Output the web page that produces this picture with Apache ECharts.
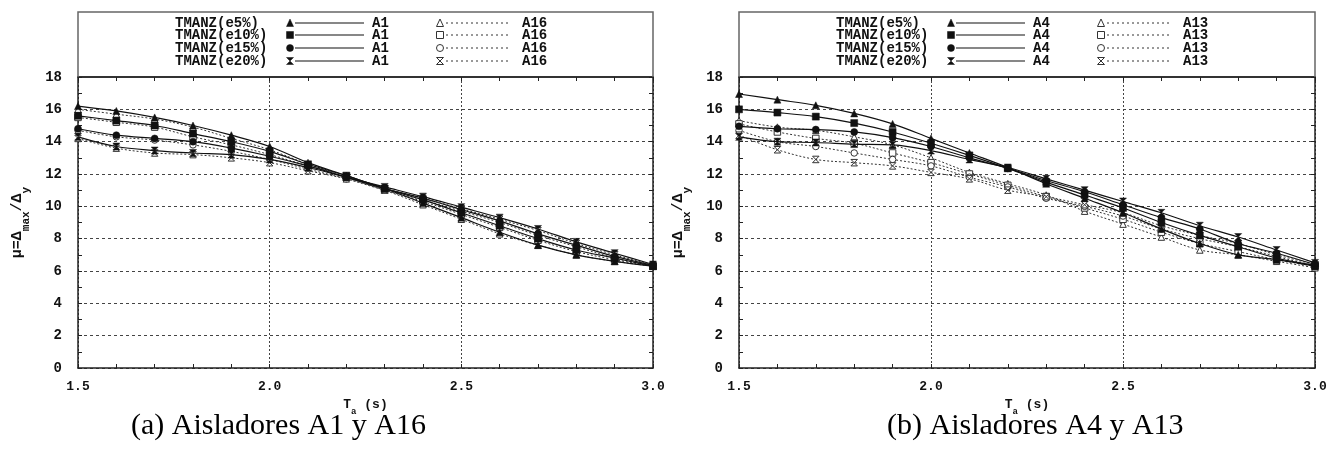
<!DOCTYPE html>
<html>
<head>
<meta charset="utf-8">
<script src="https://cdn.jsdelivr.net/npm/echarts@6/dist/echarts.min.js"></script>
<style>
html,body{margin:0;padding:0;background:#fff;}
#c{width:1330px;height:451px;}
</style>
</head>
<body>
<div id="c"></div>
<script>
// ---- data ----
const periods = [1.5,1.6,1.7,1.8,1.9,2.0,2.1,2.2,2.3,2.4,2.5,2.6,2.7,2.8,2.9,3.0];
const eccLabels = ['TMANZ(e5%)','TMANZ(e10%)','TMANZ(e15%)','TMANZ(e20%)'];
const xTickDecimals = 1;

// panel (a): A1 (solid) and A16 (dotted)
const a1_e5  = [16.2,15.9,15.5,15.0,14.4,13.7,12.7,11.9,11.1,10.2,9.3,8.4,7.6,7.0,6.6,6.3];
const a1_e10 = [15.6,15.3,15.0,14.5,14.0,13.4,12.6,11.9,11.1,10.4,9.6,8.8,8.0,7.3,6.8,6.3];
const a1_e15 = [14.8,14.4,14.2,14.0,13.6,13.1,12.5,11.8,11.1,10.5,9.8,9.1,8.3,7.6,6.9,6.35];
const a1_e20 = [14.3,13.7,13.45,13.3,13.2,12.9,12.4,11.8,11.2,10.6,9.95,9.3,8.6,7.8,7.1,6.4];
const a16_e5  = [16.0,15.7,15.4,14.9,14.2,13.5,12.6,11.8,11.0,10.1,9.2,8.3,7.6,7.0,6.6,6.3];
const a16_e10 = [15.5,15.2,14.9,14.3,13.8,13.2,12.5,11.8,11.0,10.3,9.5,8.7,7.9,7.2,6.7,6.3];
const a16_e15 = [14.7,14.3,14.1,13.8,13.4,12.9,12.3,11.7,11.0,10.4,9.7,9.0,8.2,7.5,6.8,6.3];
const a16_e20 = [14.2,13.6,13.3,13.2,13.0,12.7,12.2,11.7,11.1,10.5,9.85,9.2,8.5,7.7,7.0,6.35];

// panel (b): A4 (solid) and A13 (dotted)
const a4_e5  = [16.95,16.6,16.25,15.75,15.1,14.2,13.3,12.4,11.4,10.5,9.6,8.6,7.7,7.0,6.7,6.3];
const a4_e10 = [16.0,15.8,15.55,15.15,14.6,13.9,13.15,12.35,11.5,10.7,9.9,9.0,8.2,7.5,6.8,6.35];
const a4_e15 = [14.95,14.8,14.75,14.6,14.25,13.7,13.0,12.35,11.6,10.9,10.1,9.3,8.6,7.7,7.1,6.4];
const a4_e20 = [14.3,14.0,13.95,13.85,13.8,13.45,12.9,12.4,11.7,11.0,10.3,9.6,8.8,8.1,7.3,6.5];
const a13_e5  = [15.3,14.9,14.7,14.3,13.8,13.0,12.1,11.4,10.7,9.7,8.9,8.1,7.3,7.0,6.6,6.2];
const a13_e10 = [15.1,14.6,14.2,13.9,13.3,12.7,12.0,11.3,10.6,9.9,9.2,8.4,7.7,7.2,6.7,6.3];
const a13_e15 = [14.7,14.0,13.7,13.3,12.9,12.5,11.8,11.2,10.5,10.0,9.4,8.6,8.0,7.5,6.9,6.3];
const a13_e20 = [14.4,13.5,12.9,12.7,12.5,12.1,11.7,11.0,10.6,10.1,9.6,8.8,8.2,7.7,7.0,6.4];

const panels = [
  {solidName:'A1', dotName:'A16', solid:[a1_e5,a1_e10,a1_e15,a1_e20], dot:[a16_e5,a16_e10,a16_e15,a16_e20], caption:'(a) Aisladores A1 y A16'},
  {solidName:'A4', dotName:'A13', solid:[a4_e5,a4_e10,a4_e15,a4_e20], dot:[a13_e5,a13_e10,a13_e15,a13_e20], caption:'(b) Aisladores A4 y A13'}
];

// ---- styling / layout ----
const gridLeft = [78, 739];
const gridRight = [653, 1315];
const gridTop = 77, gridBottomY = 368, boxTop = 12;
const symbols = ['triangle','rect','circle','path://M0,0L10,0L0,10L10,10Z'];
const monoBold = 'bold 14px "Liberation Mono"';

const chart = echarts.init(document.getElementById('c'), null, {renderer:'canvas'});

const grids = [], xAxes = [], yAxes = [], series = [], graphics = [], titles = [];

panels.forEach((p, i) => {
  grids.push({left: gridLeft[i], right: 1330 - gridRight[i], top: gridTop, bottom: 451 - gridBottomY, containLabel:false});
  const tickBase = {show:true, inside:true, length:4, lineStyle:{color:'#222', width:1}};
  const minorBase = {show:true, splitNumber:5, length:4, lineStyle:{color:'#222', width:1}};
  // bottom x
  xAxes.push({
    gridIndex:i, type:'value', min:1.5, max:3.0, interval:0.5, position:'bottom',
    axisLine:{show:true, onZero:false, lineStyle:{color:'#222', width:1.5}},
    axisTick:tickBase, minorTick:minorBase,
    axisLabel:{color:'#111', fontFamily:'Liberation Mono', fontWeight:'bold', fontSize:13, margin:12,
      formatter:v => v.toFixed(xTickDecimals)},
    splitLine:{show:true, lineStyle:{color:'#444', width:1, type:[2,2]}},
    name:'{b|T}{s|a}{b| (s)}', nameLocation:'middle', nameGap:28,
    nameTextStyle:{rich:{
      b:{fontFamily:'Liberation Mono', fontWeight:'bold', fontSize:13, color:'#111', lineHeight:18, verticalAlign:'top'},
      s:{fontFamily:'Liberation Mono', fontWeight:'bold', fontSize:9, color:'#111', lineHeight:18, verticalAlign:'bottom'}
    }}
  });
  // top x (ticks only)
  xAxes.push({
    gridIndex:i, type:'value', min:1.5, max:3.0, interval:0.5, position:'top',
    axisLine:{show:true, onZero:false, lineStyle:{color:'#333', width:2}},
    axisTick:tickBase, minorTick:minorBase, axisLabel:{show:false}, splitLine:{show:false}
  });
  // left y
  yAxes.push({
    gridIndex:i, type:'value', min:0, max:18, interval:2, position:'left',
    axisLine:{show:true, onZero:false, lineStyle:{color:'#222', width:1.5}},
    axisTick:{show:true, inside:true, length:4, lineStyle:{color:'#222'}},
    minorTick:{show:true, splitNumber:2, length:4, lineStyle:{color:'#222'}},
    axisLabel:{color:'#111', fontFamily:'Liberation Mono', fontWeight:'bold', fontSize:14, margin:16},
    splitLine:{show:true, lineStyle:{color:'#444', width:1, type:[3,3]}},
    name:'{b|μ=Δ}{s|max}{b|/Δ}{s|y}', nameLocation:'middle', nameGap:46,
    nameTextStyle:{rich:{
      b:{fontFamily:'Liberation Mono', fontWeight:'bold', fontSize:15, color:'#111', lineHeight:22, verticalAlign:'top'},
      s:{fontFamily:'Liberation Mono', fontWeight:'bold', fontSize:11, color:'#111', lineHeight:22, verticalAlign:'bottom'}
    }}
  });
  // right y (ticks only)
  yAxes.push({
    gridIndex:i, type:'value', min:0, max:18, interval:2, position:'right',
    axisLine:{show:true, onZero:false, lineStyle:{color:'#222', width:1.5}},
    axisTick:{show:true, inside:true, length:4, lineStyle:{color:'#222'}},
    minorTick:{show:true, splitNumber:2, length:4, lineStyle:{color:'#222'}},
    axisLabel:{show:false}, splitLine:{show:false}
  });

  const xi = i*2, yi = i*2;
  p.dot.forEach((vals, k) => {
    series.push({
      type:'line', name:eccLabels[k] + ' ' + p.dotName, xAxisIndex:xi, yAxisIndex:yi,
      data: periods.map((t, j) => [t, vals[j]]),
      smooth:0.35, symbol:symbols[k], symbolSize:6.5, showSymbol:true,
      lineStyle:{color:'#333', width:1, type:[2,2]},
      itemStyle:{color:'#fff', borderColor:'#333', borderWidth:1},
      z:2, animation:false
    });
  });
  p.solid.forEach((vals, k) => {
    series.push({
      type:'line', name:eccLabels[k] + ' ' + p.solidName, xAxisIndex:xi, yAxisIndex:yi,
      data: periods.map((t, j) => [t, vals[j]]),
      smooth:0.35, symbol:symbols[k], symbolSize:7, showSymbol:true,
      lineStyle:{color:'#111', width:1.2},
      itemStyle:{color:'#111', borderColor:'#111', borderWidth:0.5},
      z:3, animation:false
    });
  });

  // legend box frame
  const L = gridLeft[i], R = gridRight[i];
  graphics.push({type:'polyline', shape:{points:[[L,gridTop],[L,boxTop],[R,boxTop],[R,gridTop]]},
    style:{stroke:'#666', lineWidth:1.5, fill:null}, z:10});

  // legend rows
  const rowY = [23, 35, 48, 61];
  eccLabels.forEach((lab, k) => {
    const y = rowY[k];
    graphics.push({type:'text', x:L+97, y:y, style:{text:lab, font:monoBold, fill:'#111', textVerticalAlign:'middle'}, z:10});
    graphics.push(makeMarker(k, L+212, y, true));
    graphics.push({type:'line', shape:{x1:L+217, y1:y, x2:L+286, y2:y}, style:{stroke:'#111', lineWidth:1.2}, z:10});
    graphics.push({type:'text', x:L+294, y:y, style:{text:p.solidName, font:monoBold, fill:'#111', textVerticalAlign:'middle'}, z:10});
    graphics.push(makeMarker(k, L+362, y, false));
    graphics.push({type:'line', shape:{x1:L+368, y1:y, x2:L+432, y2:y}, style:{stroke:'#333', lineWidth:1, lineDash:[2,3]}, z:10});
    graphics.push({type:'text', x:L+444, y:y, style:{text:p.dotName, font:monoBold, fill:'#111', textVerticalAlign:'middle'}, z:10});
  });

  titles.push({text:p.caption, left: i === 0 ? 131 : 887, top:411, padding:0,
    textStyle:{fontFamily:'Liberation Serif', fontWeight:'normal', fontSize:30, color:'#000'}});
});

function makeMarker(k, cx, cy, filled) {
  const s = 3.5;
  const style = filled ? {fill:'#111', stroke:'#111', lineWidth:0.5} : {fill:'#fff', stroke:'#333', lineWidth:1};
  if (k === 0) return {type:'polygon', shape:{points:[[cx,cy-s-0.5],[cx+s,cy+s],[cx-s,cy+s]]}, style, z:11};
  if (k === 1) return {type:'rect', shape:{x:cx-s, y:cy-s, width:2*s, height:2*s}, style, z:11};
  if (k === 2) return {type:'circle', shape:{cx:cx, cy:cy, r:s}, style, z:11};
  return {type:'polygon', shape:{points:[[cx-s,cy-s],[cx+s,cy-s],[cx-s,cy+s],[cx+s,cy+s]]}, style, z:11};
}

chart.setOption({
  animation:false,
  backgroundColor:'#fff',
  title:titles,
  grid:grids,
  xAxis:xAxes,
  yAxis:yAxes,
  series:series,
  graphic:graphics
});
</script>
</body>
</html>
